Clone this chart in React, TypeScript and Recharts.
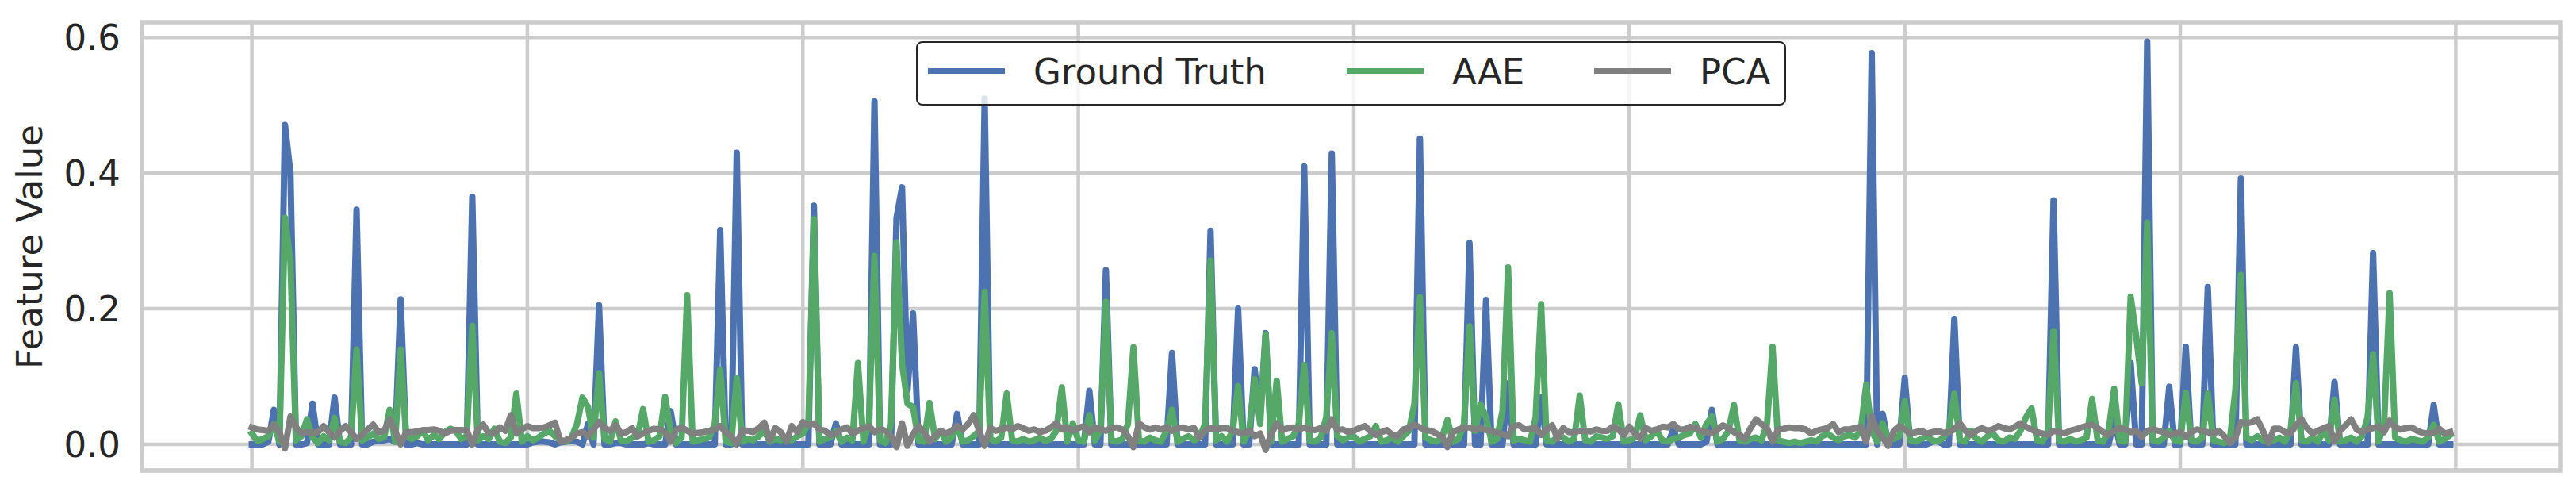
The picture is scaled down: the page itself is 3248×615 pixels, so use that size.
import { LineChart, Line, XAxis, YAxis, CartesianGrid, Legend, ReferenceArea } from 'recharts';

// Valores (400 muestras, índice 0..399)
const GROUND_TRUTH = [
  0, 0, 0, 0.004, 0.051, 0, 0.471, 0.4, 0, 0, 0.002, 0.06, 0, 0, 0, 0.069, 0, 0, 0, 0.346,
  0, 0, 0.004, 0.005, 0.006, 0.008, 0.004, 0.214, 0, 0, 0.002, 0, 0, 0, 0, 0, 0, 0, 0, 0,
  0.365, 0, 0, 0, 0, 0, 0, 0, 0, 0, 0, 0.003, 0.004, 0.004, 0.003, 0, 0.003, 0.004, 0.005, 0.004,
  0, 0.03, 0, 0.205, 0, 0, 0.002, 0.002, 0, 0, 0, 0, 0.002, 0, 0, 0, 0.049, 0, 0, 0,
  0, 0, 0, 0, 0, 0.316, 0, 0, 0.43, 0, 0, 0, 0, 0, 0, 0, 0, 0, 0, 0,
  0, 0, 0.352, 0, 0, 0, 0.031, 0, 0, 0, 0, 0, 0, 0.506, 0, 0, 0, 0.334, 0.379, 0.08,
  0.193, 0, 0, 0, 0, 0, 0, 0, 0.045, 0, 0, 0, 0, 0.51, 0, 0, 0, 0, 0, 0,
  0, 0, 0, 0, 0, 0, 0, 0, 0, 0, 0, 0, 0.079, 0, 0, 0.257, 0, 0, 0, 0,
  0, 0, 0, 0, 0, 0, 0, 0.135, 0, 0, 0, 0, 0, 0, 0.315, 0, 0, 0, 0, 0.2,
  0, 0, 0.111, 0.04, 0.164, 0, 0, 0, 0, 0, 0, 0.41, 0, 0, 0, 0, 0.429, 0, 0, 0,
  0, 0, 0, 0, 0, 0, 0, 0, 0, 0, 0, 0, 0.451, 0, 0, 0, 0, 0, 0, 0,
  0, 0.297, 0, 0, 0.213, 0, 0, 0, 0.09, 0, 0, 0, 0, 0, 0.07, 0, 0, 0, 0, 0,
  0, 0, 0, 0, 0, 0, 0, 0, 0, 0, 0, 0, 0, 0, 0, 0, 0, 0, 0.022, 0,
  0, 0, 0, 0, 0.004, 0.051, 0, 0, 0, 0, 0, 0, 0, 0, 0, 0, 0, 0, 0, 0,
  0, 0, 0, 0, 0, 0, 0, 0, 0, 0, 0, 0, 0, 0, 0.577, 0, 0.045, 0, 0, 0,
  0.098, 0, 0, 0, 0, 0.004, 0.005, 0, 0, 0.185, 0, 0, 0, 0, 0, 0, 0, 0, 0, 0,
  0, 0, 0, 0, 0, 0, 0, 0.36, 0, 0, 0, 0, 0, 0, 0, 0, 0, 0, 0.037, 0,
  0, 0.12, 0, 0, 0.594, 0, 0, 0, 0.085, 0, 0, 0.144, 0, 0, 0, 0.232, 0, 0, 0, 0,
  0, 0.392, 0, 0, 0, 0, 0, 0, 0, 0, 0, 0.143, 0, 0, 0, 0, 0, 0, 0.092, 0,
  0, 0, 0, 0, 0, 0.282, 0, 0, 0, 0, 0, 0, 0, 0, 0, 0, 0.058, 0, 0, 0,
];

const AAE = [
  0.016, 0.005, 0.008, 0.012, 0.03, 0.004, 0.334, 0.27, 0.006, 0.012, 0.037, 0.01, 0.002, 0.012, 0.006, 0.039, 0.004, 0.002, 0.01, 0.14,
  0.006, 0.01, 0.016, 0.008, 0.01, 0.051, 0.004, 0.14, 0.012, 0.008, 0.012, 0.02, 0.006, 0.014, 0.008, 0.018, 0.023, 0.02, 0.008, 0.012,
  0.175, 0.006, 0.012, 0.008, 0.023, 0.004, 0.002, 0.01, 0.075, 0.004, 0.012, 0.006, 0.01, 0.016, 0.02, 0.012, 0.006, 0.004, 0.01, 0.03,
  0.069, 0.055, 0.01, 0.105, 0.008, 0.004, 0.034, 0.006, 0.004, 0.01, 0.012, 0.052, 0.004, 0.006, 0.012, 0.07, 0.02, 0.002, 0.01, 0.22,
  0.004, 0.006, 0.008, 0.01, 0.03, 0.11, 0.004, 0.002, 0.098, 0.004, 0.008, 0.006, 0.012, 0.02, 0.004, 0.008, 0.006, 0.01, 0.006, 0.012,
  0.016, 0.03, 0.332, 0.004, 0.008, 0.01, 0.02, 0.004, 0.01, 0.006, 0.12, 0.004, 0.03, 0.278, 0.006, 0.002, 0.03, 0.298, 0.12, 0.06,
  0.055, 0.006, 0.004, 0.061, 0.008, 0.02, 0.004, 0.01, 0.027, 0.004, 0.006, 0.012, 0.02, 0.225, 0.008, 0.004, 0.01, 0.075, 0.006, 0.004,
  0.008, 0.004, 0.006, 0.01, 0.005, 0.008, 0.02, 0.084, 0.004, 0.031, 0.006, 0.004, 0.043, 0.006, 0.02, 0.21, 0.006, 0.004, 0.008, 0.03,
  0.143, 0.006, 0.004, 0.01, 0.006, 0.004, 0.02, 0.051, 0.004, 0.008, 0.012, 0.006, 0.01, 0.03, 0.271, 0.006, 0.012, 0.004, 0.02, 0.086,
  0.004, 0.02, 0.096, 0.03, 0.162, 0.004, 0.094, 0.004, 0.008, 0.012, 0.03, 0.117, 0.006, 0.004, 0.01, 0.04, 0.164, 0.012, 0.006, 0.01,
  0.012, 0.004, 0.008, 0.012, 0.027, 0.004, 0.006, 0.01, 0.004, 0.012, 0.02, 0.06, 0.217, 0.01, 0.006, 0.004, 0.01, 0.036, 0.004, 0.008,
  0.03, 0.174, 0.02, 0.059, 0.04, 0.004, 0.008, 0.05, 0.261, 0.006, 0.008, 0.006, 0.004, 0.04, 0.207, 0.006, 0.004, 0.012, 0.01, 0.004,
  0.008, 0.072, 0.006, 0.004, 0.012, 0.01, 0.008, 0.012, 0.059, 0.004, 0.006, 0.01, 0.043, 0.006, 0.012, 0.02, 0.006, 0.004, 0.008, 0.01,
  0.014, 0.016, 0.03, 0.01, 0.03, 0.041, 0.004, 0.008, 0.02, 0.058, 0.006, 0.004, 0.008, 0.01, 0.006, 0.03, 0.144, 0.006, 0.004, 0.002,
  0.004, 0.002, 0.004, 0.006, 0.004, 0.012, 0.016, 0.01, 0.006, 0.012, 0.014, 0.01, 0.02, 0.088, 0.02, 0.004, 0.031, 0.006, 0.008, 0.012,
  0.064, 0.006, 0.004, 0.008, 0.012, 0.006, 0.004, 0.01, 0.02, 0.075, 0.006, 0.004, 0.02, 0.008, 0.004, 0.012, 0.016, 0.006, 0.004, 0.01,
  0.008, 0.02, 0.04, 0.053, 0.006, 0.004, 0.02, 0.167, 0.006, 0.004, 0.008, 0.004, 0.006, 0.01, 0.067, 0.006, 0.004, 0.02, 0.082, 0.006,
  0.004, 0.218, 0.16, 0.09, 0.327, 0.006, 0.004, 0.01, 0.02, 0.006, 0.004, 0.076, 0.006, 0.004, 0.01, 0.075, 0.006, 0.004, 0.002, 0.006,
  0.08, 0.25, 0.01, 0.006, 0.012, 0.006, 0.004, 0.006, 0.01, 0.004, 0.02, 0.09, 0.006, 0.004, 0.01, 0.004, 0.02, 0.006, 0.066, 0.004,
  0.006, 0.01, 0.004, 0.012, 0.04, 0.133, 0.004, 0.03, 0.223, 0.01, 0.006, 0.004, 0.008, 0.006, 0.004, 0.01, 0.029, 0.004, 0.008, 0.014,
];

const PCA = [
  0.025, 0.022, 0.021, 0.02, 0.029, 0.018, -0.006, 0.041, 0.025, 0.016, 0.018, 0.017, 0.018, 0.027, 0.018, 0.01, 0.02, 0.027, 0.018, 0.008,
  0.014, 0.022, 0.029, 0.018, 0.02, 0.037, 0.02, 0, 0.018, 0.018, 0.019, 0.021, 0.021, 0.022, 0.02, 0.016, 0.02, 0.021, 0.021, 0.021,
  0, 0.022, 0.029, 0.016, 0.016, 0.025, 0.02, 0.043, 0.016, 0.022, 0.027, 0.024, 0.024, 0.025, 0.028, 0.032, 0.004, 0.006, 0.01, 0.016,
  0.018, 0.012, 0.022, 0.033, 0.024, 0.02, 0.028, 0.016, 0.018, 0.024, 0.012, 0.016, 0.02, 0.023, 0.022, 0.018, 0.004, 0.021, 0.025, 0.02,
  0.016, 0.017, 0.018, 0.02, 0.022, 0.027, 0.018, 0.012, 0, 0.021, 0.02, 0.018, 0.024, 0.032, 0.006, 0.024, 0.018, 0.004, 0.027, 0.018,
  0.033, 0.028, 0.031, 0.022, 0.02, 0.014, 0.016, 0.022, 0.025, 0.016, 0.02, 0.024, 0.027, 0.018, 0.022, 0.02, 0.012, -0.004, 0.031, -0.002,
  0.015, 0.027, 0.018, 0.004, 0.012, 0.02, 0.016, 0.02, 0.027, 0.022, 0.03, 0.043, 0.02, -0.002, 0.024, 0.02, 0.022, 0.025, 0.022, 0.027,
  0.024, 0.02, 0.022, 0.018, 0.02, 0.025, 0.031, 0.022, 0.025, 0.02, 0.024, 0.027, 0.018, 0.025, 0.022, 0.02, 0.024, 0.025, 0.022, 0.012,
  -0.004, 0.031, 0.025, 0.022, 0.025, 0.022, 0.025, 0.02, 0.024, 0.025, 0.022, 0.024, 0.01, 0.02, 0.024, 0.022, 0.024, 0.024, 0.02, 0.018,
  0.016, 0.02, 0.012, 0.016, -0.008, 0.015, 0.031, 0.021, 0.024, 0.025, 0.022, 0.025, 0.022, 0.021, 0.024, 0.02, 0.037, 0.021, 0.022, 0.018,
  0.02, 0.024, 0.027, 0.02, 0.014, 0.018, 0.021, 0.014, 0.012, 0.022, 0.024, 0.029, 0.025, 0.021, 0.02, 0.016, 0.012, -0.004, 0.018, 0.022,
  0.024, 0.025, 0.022, 0.024, 0.021, 0.02, 0.017, 0.015, 0.012, 0.027, 0.028, 0.022, 0.023, 0.024, 0.014, 0.022, 0.028, 0.008, 0.024, 0.018,
  0.018, 0.02, 0.02, 0.019, 0.022, 0.02, 0.02, 0.026, 0.022, 0.014, 0.026, 0.016, 0.008, 0.024, 0.02, 0.022, 0.026, 0.025, 0.03, 0.022,
  0.022, 0.026, 0.024, 0.02, 0.018, 0.016, 0.022, 0.028, 0.024, 0.018, 0.014, 0.008, 0.024, 0.037, 0.03, 0.024, 0.004, 0.022, 0.023, 0.025,
  0.024, 0.024, 0.022, 0.016, 0.02, 0.022, 0.024, 0.03, 0.018, 0.022, 0.022, 0.024, 0.026, 0.004, 0.041, 0.02, 0.01, -0.002, 0.02, 0.027,
  0.022, 0.016, 0.018, 0.02, 0.016, 0.018, 0.02, 0.017, 0.018, 0.022, 0.031, 0.02, 0.014, 0.02, 0.024, 0.02, 0.022, 0.027, 0.024, 0.022,
  0.026, 0.031, 0.026, 0.022, 0.018, 0.016, 0.014, 0.02, 0.018, 0.016, 0.02, 0.022, 0.025, 0.027, 0.029, 0.024, 0.018, 0.014, 0.02, 0.024,
  0.022, 0.018, 0.02, 0.011, 0.02, 0.022, 0.02, 0.018, 0.014, 0.016, 0.018, 0.011, 0.018, 0.022, 0.02, 0.018, 0.016, 0.02, 0.012, 0.002,
  0.01, 0.033, 0.031, 0.033, 0.037, 0.02, 0.002, 0.023, 0.023, 0.018, 0.016, 0.028, 0.037, 0.024, 0.016, 0.02, 0.024, 0.027, 0.004, 0.02,
  0.028, 0.037, 0.022, 0.018, 0.022, 0.024, 0.027, 0.018, 0.035, 0.025, 0.022, 0.024, 0.025, 0.02, 0.017, 0.016, 0.017, 0.023, 0.016, 0.018,
];

const X_TICKS = [0, 50, 100, 150, 200, 250, 300, 350, 400];
const Y_TICKS = [0, 0.2, 0.4, 0.6];

// límites como en matplotlib (5% de margen)
const X_DOMAIN = [-19.95, 418.95];
const Y_DOMAIN = [-0.0386, 0.6226];

const SERIES = [
  { key: 'gt', name: 'Ground Truth', color: '#4C72B0' },
  { key: 'aae', name: 'AAE', color: '#55A868' },
  { key: 'pca', name: 'PCA', color: '#808080' },
];

const FONT = '"DejaVu Sans", sans-serif';
const TEXT = '#262626';
const GRID = '#cccccc';
const LINE_W = 8;

const data = GROUND_TRUTH.map((gt, i) => ({ idx: i, gt, aae: AAE[i], pca: PCA[i] }));

// posición de cada muestra dentro del cuadro de leyenda
const LEGEND_SLOTS = [13, 541, 853];

function renderLegend() {
  return (
    <div
      style={{
        position: 'relative',
        width: 1097,
        height: 81,
        boxSizing: 'border-box',
        border: `2px solid ${TEXT}`,
        borderRadius: 8,
        background: 'rgba(255,255,255,0.8)',
        fontFamily: FONT,
      }}
    >
      {SERIES.map((s, i) => (
        <div key={s.key}>
          <div style={{ position: 'absolute', left: LEGEND_SLOTS[i], top: 31.5, width: 97, height: 7, background: s.color }} />
          <span
            style={{
              position: 'absolute',
              left: LEGEND_SLOTS[i] + 133,
              top: 9.5,
              fontSize: 45,
              lineHeight: 'normal',
              color: TEXT,
              whiteSpace: 'nowrap',
            }}
          >
            {s.name}
          </span>
        </div>
      ))}
    </div>
  );
}

const AxisTitle = () => (
  <text
    transform="translate(53,311) rotate(-90)"
    textAnchor="middle"
    fontFamily={FONT}
    fontSize={45}
    fill={TEXT}
  >
    Feature Value
  </text>
);

export default function App() {
  return (
    <div style={{ position: 'absolute', left: 0, top: 0, width: 3248, height: 615, background: '#fff' }}>
      <LineChart width={3248} height={615} data={data} margin={{ top: 28, right: 20, bottom: 22, left: 59 }}>
        <CartesianGrid stroke={GRID} strokeWidth={4.5} />
        <XAxis
          dataKey="idx"
          type="number"
          domain={X_DOMAIN}
          ticks={X_TICKS}
          allowDataOverflow
          hide
          height={0}
        />
        <YAxis
          type="number"
          domain={Y_DOMAIN}
          ticks={Y_TICKS}
          allowDataOverflow
          width={120}
          axisLine={false}
          tickLine={false}
          tickSize={0}
          tickMargin={27}
          tickFormatter={(v: number) => v.toFixed(1)}
          tick={{ fontFamily: FONT, fontSize: 45, fill: TEXT }}
          label={<AxisTitle />}
        />
        <ReferenceArea
          x1={X_DOMAIN[0]}
          x2={X_DOMAIN[1]}
          y1={Y_DOMAIN[0]}
          y2={Y_DOMAIN[1]}
          fill="none"
          stroke={GRID}
          strokeWidth={5.3}
          ifOverflow="visible"
        />
        {SERIES.map((s) => (
          <Line
            key={s.key}
            dataKey={s.key}
            name={s.name}
            stroke={s.color}
            strokeWidth={LINE_W}
            strokeLinejoin="round"
            strokeLinecap="square"
            dot={false}
            type="linear"
            isAnimationActive={false}
          />
        ))}
        <Legend
          verticalAlign="middle"
          align="center"
          content={renderLegend}
          wrapperStyle={{ left: 1155, top: 52, width: 1097, height: 81 }}
        />
      </LineChart>
    </div>
  );
}
